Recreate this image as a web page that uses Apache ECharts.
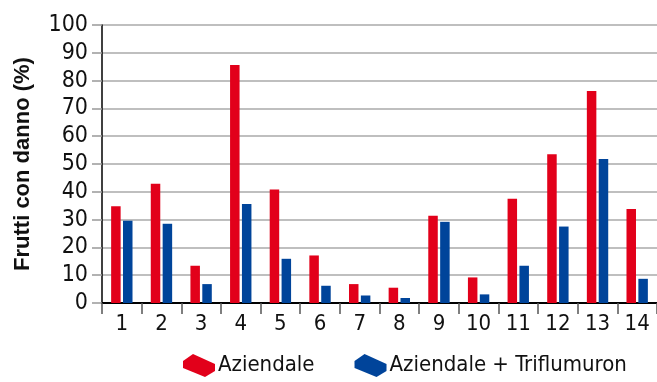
<!DOCTYPE html>
<html><head><meta charset="utf-8">
<script src="https://cdn.jsdelivr.net/npm/echarts@6/dist/echarts.min.js"></script>
<style>html,body{margin:0;padding:0;background:#fff}#c{width:657px;height:382px}</style>
</head><body><div id="c"></div>
<script>
var categories = ['1','2','3','4','5','6','7','8','9','10','11','12','13','14'];
var aziendale = [34.8, 42.9, 13.4, 85.6, 40.8, 17.1, 6.8, 5.5, 31.4, 9.2, 37.5, 53.5, 76.3, 33.8];
var triflumuron = [29.6, 28.5, 6.8, 35.6, 15.9, 6.2, 2.7, 1.8, 29.2, 3.1, 13.4, 27.5, 51.8, 8.7];
var seriesNames = ['Aziendale', 'Aziendale + Triflumuron'];
var yTitle = 'Frutti con danno (%)';

var FONT = '"Liberation Sans Narrow","DejaVu Sans Condensed","Liberation Sans",sans-serif';
var box = 'path://M0,7 L10,0 L32,10 L32,17 L22,23 L0,14 Z';
var chart = echarts.init(document.getElementById('c'), null, {renderer:'canvas'});
chart.setOption({
  animation: false,
  color: ['#e2001a', '#00449a'],
  grid: {left: 102, top: 25, width: 560, height: 278},
  legend: {
    bottom: 0, left: 178, itemWidth: 32, itemHeight: 23, itemGap: 40,
    data: [{name: seriesNames[0], icon: box}, {name: seriesNames[1], icon: box}],
    textStyle: {fontSize: 22, color: '#111', fontFamily: FONT, padding: [0,0,0,-2]}
  },
  xAxis: {
    type: 'category', data: categories,
    axisLine: {lineStyle: {color: '#000', width: 2}},
    axisTick: {show: true, length: 11, lineStyle: {color: '#555', width: 1.5}},
    axisLabel: {fontSize: 22, color: '#111', fontFamily: FONT, margin: 10}
  },
  yAxis: {
    type: 'value', min: 0, max: 100, interval: 10,
    name: yTitle, nameLocation: 'middle', nameGap: 68, nameRotate: 90,
    nameTextStyle: {fontSize: 22, fontWeight: 'bold', color: '#111', fontFamily: '"Liberation Sans",sans-serif'},
    axisLine: {show: true, lineStyle: {color: '#000', width: 1.5}},
    axisTick: {show: true, length: 10, lineStyle: {color: '#999', width: 1.5}},
    axisLabel: {fontSize: 23, color: '#111', fontFamily: FONT, margin: 14},
    splitLine: {lineStyle: {color: '#aaa', width: 1.5}}
  },
  series: [
    {name: seriesNames[0], type: 'bar', data: aziendale, barWidth: 9.5, barGap: '25%'},
    {name: seriesNames[1], type: 'bar', data: triflumuron, barWidth: 9.5, barGap: '25%'}
  ]
});
</script></body></html>
